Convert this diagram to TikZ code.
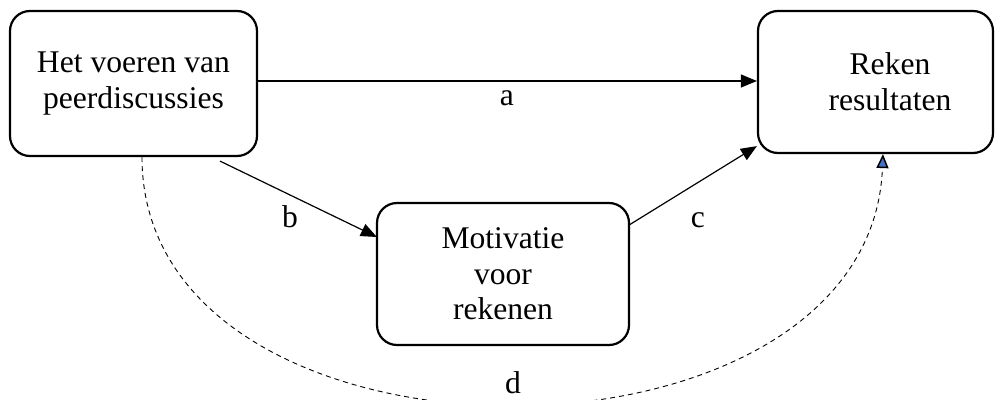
\documentclass[tikz,border=0pt]{standalone}
\usepackage{fontspec}
\setmainfont{Liberation Serif}
\usetikzlibrary{arrows.meta,calc}
\definecolor{tipblue}{HTML}{4472C4}
\begin{document}
\begin{tikzpicture}[x=1pt,y=-1pt,
  font=\fontsize{31.6}{35.5}\selectfont,
  box/.style={draw,line width=2.2pt,rounded corners=20pt,inner sep=0pt,align=center},
  arr/.style={line width=1.2pt,-{Triangle[length=16pt,width=13pt]}},
  dasharr/.style={line width=0.9pt,dash pattern=on 5pt off 4pt,
    -{Triangle[length=14pt,width=12pt,fill=tipblue,line width=1.5pt,sep=0pt]}},
  lbl/.style={anchor=base,inner sep=0pt}]
\useasboundingbox (0,0) rectangle (1004,399);
\clip (0,0) rectangle (1004,399);

% boxes
\node[box,minimum width=247pt,minimum height=145pt] (L) at (133.5,83.5)
  {Het voeren van\\peerdiscussies};
\node[box,minimum width=235pt,minimum height=142pt] (R) at (875.5,82) {};
\node[align=center,inner sep=0pt] (Rtext) at (890,81.5) {Reken\\resultaten};
\node[box,minimum width=252pt,minimum height=142pt] (M) at (503,274)
  {Motivatie\\voor\\rekenen};

% connector end points
\coordinate (a0) at ($(L.east)+(0,-2.5)$);
\coordinate (a1) at ($(R.west)+(0,-1)$);
\coordinate (b0) at ($(L.south)+(86.5,4)$);
\coordinate (b1) at ($(M.west)+(1,-37)$);
\coordinate (c0) at ($(M.east)+(-1,-49)$);
\coordinate (c1) at ($(R.south west)+(0,-8)$);
\coordinate (d0) at ($(L.south)+(8.5,0)$);
\coordinate (d1) at ($(R.south)+(7.5,0)$);

% connectors
\draw[arr] (a0) -- (a1);
\draw[arr] (b0) -- (b1);
\draw[arr] (c0) -- (c1);
\draw[dasharr] (d0) .. controls +(0,330) and +(-13,333) .. (d1);

% labels
\node[lbl] (la) at (507,105) {a};
\node[lbl] (lb) at (290,227) {b};
\node[lbl] (lc) at (698,227) {c};
\node[lbl] (ld) at (513,393) {d};
\end{tikzpicture}
\end{document}
